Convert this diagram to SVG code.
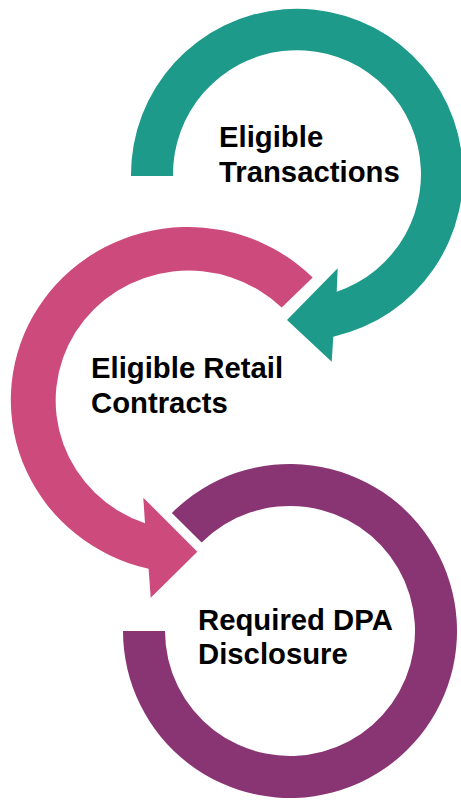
<svg xmlns="http://www.w3.org/2000/svg" width="461" height="800" viewBox="0 0 461 800">
<style>
.lbl{font-family:"Liberation Sans",Arial,sans-serif;font-weight:bold;font-size:29.3px;fill:#000}
</style>
<rect width="461" height="800" fill="#fff"/>
<g id="connectors">
<path id="teal-arrow" fill="#1D9A8A" d="M 131 176 A 166 166 0 1 1 333.3 336.7 L 331.7 361.7 L 287 320 L 337.7 268.3 L 336.7 291.7 A 124 124 0 1 0 173 176 Z"/>
<path id="pink-arrow" fill="#CD4A7D" d="M 312.7 277.4 A 177 173 0 1 0 148.6 568.7 L 150.7 597.7 L 197.3 551.7 L 143.3 497.7 L 145 523.3 A 133 130 0 1 1 281.7 307.6 Z"/>
<path id="purple-ring" fill="#8A3573" d="M 171.9 512.9 A 167 167 0 1 1 123 631 L 165 631 A 125 125 0 1 0 201.6 542.6 Z"/>
</g>
<g id="node-transactions">
<text class="lbl" x="219" y="146.7">Eligible</text>
<text class="lbl" x="219" y="181.7">Transactions</text>
</g>
<g id="node-retail">
<text class="lbl" x="91" y="377.7">Eligible Retail</text>
<text class="lbl" x="91" y="412.7">Contracts</text>
</g>
<g id="node-dpa">
<text class="lbl" x="198" y="630">Required DPA</text>
<text class="lbl" x="198" y="664">Disclosure</text>
</g>
</svg>
